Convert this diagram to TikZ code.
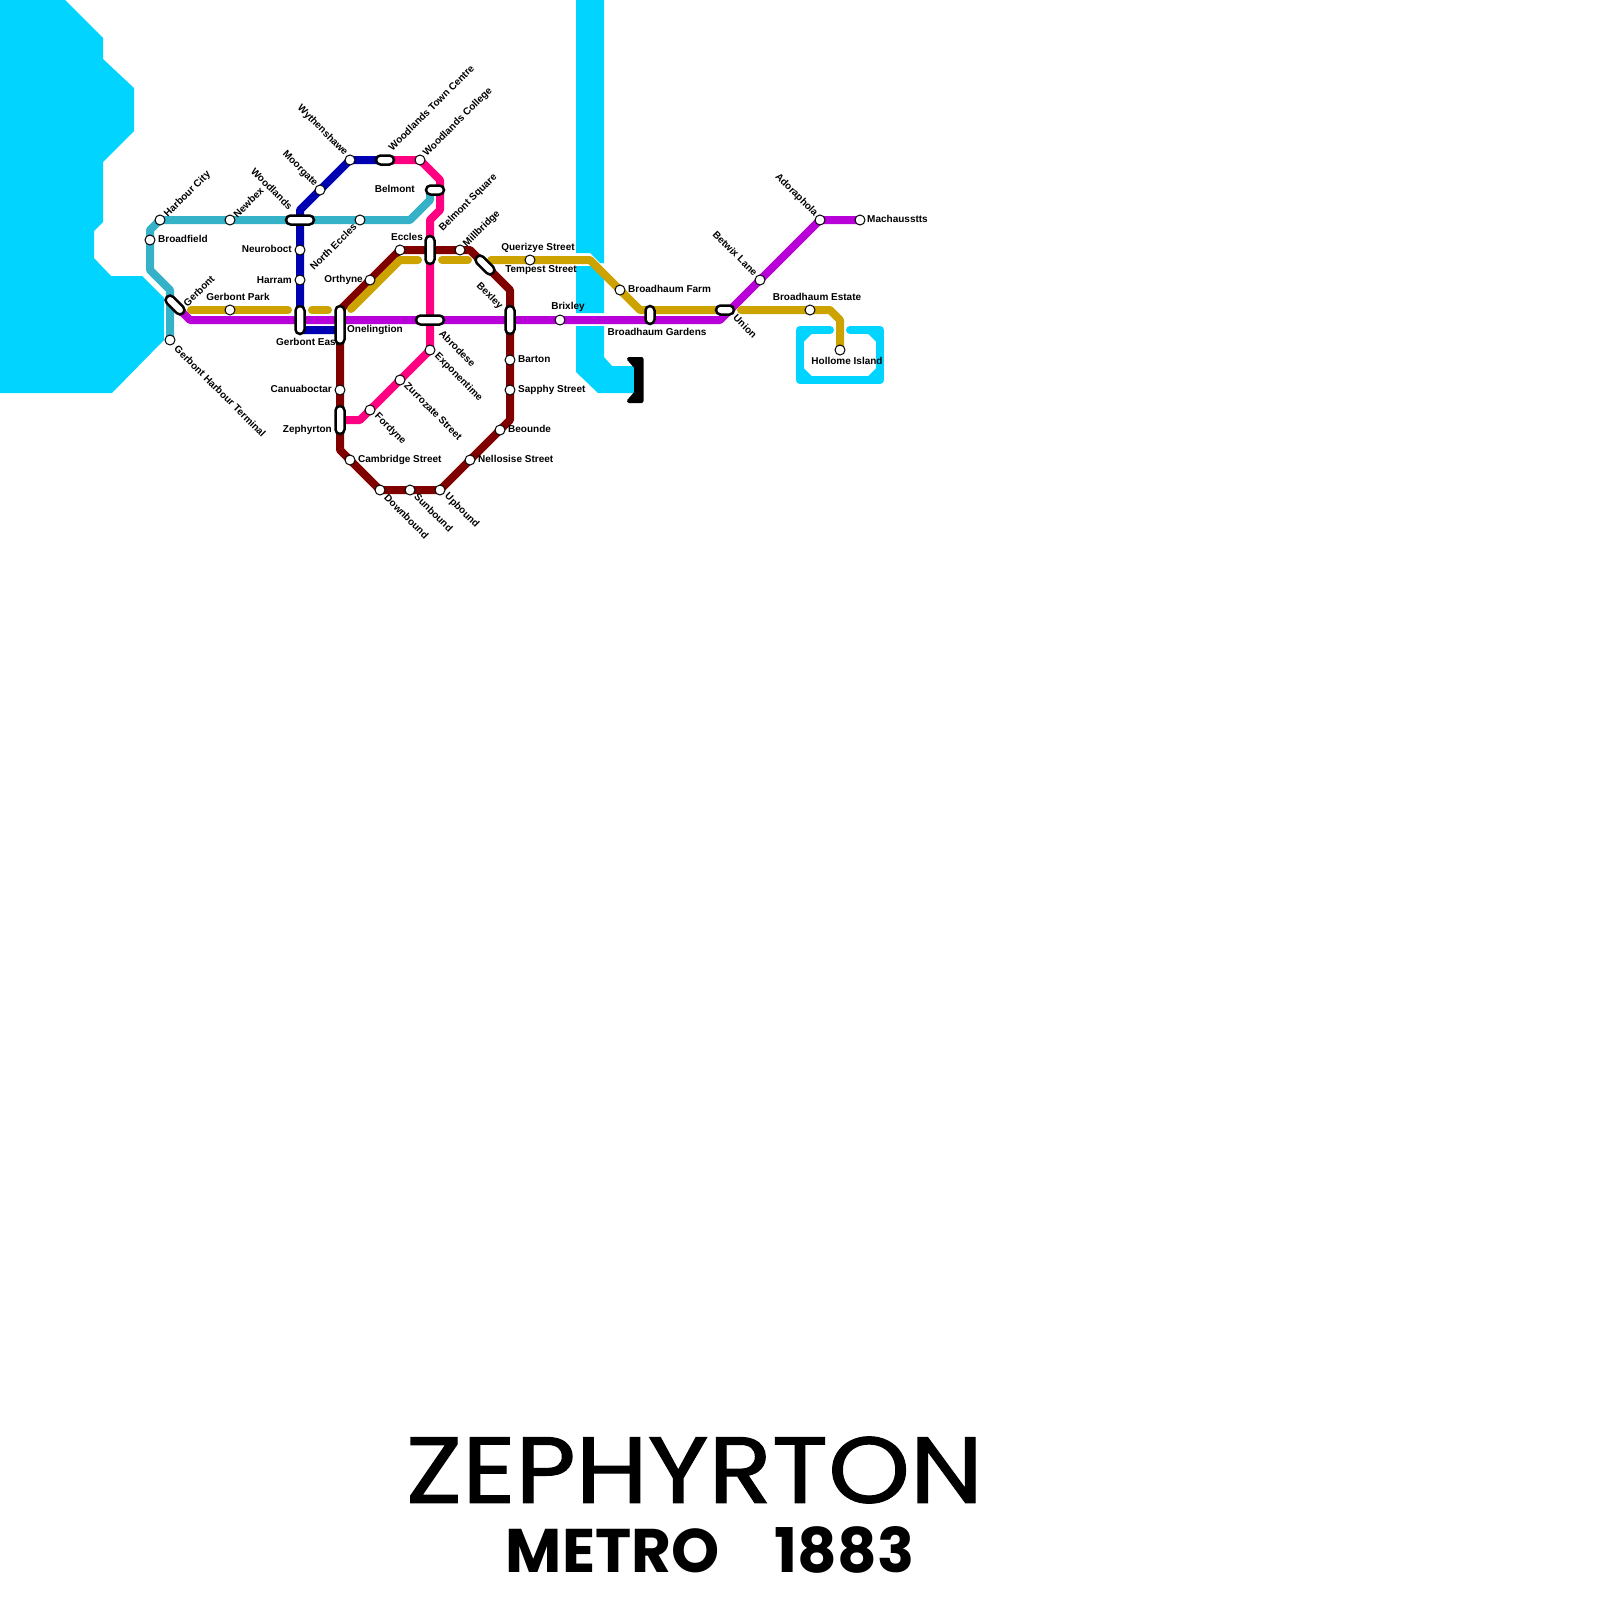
\documentclass[tikz,border=0pt]{standalone}
\usepackage{fontspec}
\usepackage{xcolor}
\usetikzlibrary{backgrounds}
\setmainfont{Liberation Sans}
\newfontfamily\titlefont{Poppins}
\newfontfamily\titleheavy[FakeBold=1.2]{Poppins}
\definecolor{watercol}{RGB}{0,212,255}
\definecolor{tealcol}{RGB}{53,178,200}
\definecolor{bluecol}{RGB}{0,0,179}
\definecolor{redcol}{RGB}{128,0,0}
\definecolor{pinkcol}{RGB}{255,0,128}
\definecolor{goldcol}{RGB}{204,163,0}
\definecolor{purplecol}{RGB}{184,0,216}

\begin{document}
\begin{tikzpicture}[x=1pt,y=-1pt,font=\fontsize{10}{12}\selectfont\bfseries,
  metroline/.style={line width=8,line join=round},
  goldline/.style={line width=8,line join=round,line cap=round,draw=goldcol},
  isle/.style={line width=8,line join=round,line cap=round,draw=watercol},
  stn/.style={circle,draw=black,fill=white,line width=1,minimum size=10,inner sep=0},
  ichg/.style={draw=black,fill=white,line width=2.5,rounded corners=4.5,minimum height=9,inner sep=0},
  lbl/.style={inner sep=0,text=black},
  up/.style={lbl,rotate=45,anchor=west},
  down/.style={lbl,rotate=-45,anchor=west},
  downend/.style={lbl,rotate=-45,anchor=east}]
\useasboundingbox (0,0) rectangle (1600,1600);

\node[stn] (harbourcity) at (160,220) {};
\node[stn] (broadfield) at (150,240) {};
\node[stn] (newbex) at (230,220) {};
\node[stn] (northeccles) at (360,220) {};
\node[stn] (harbourterm) at (170,340) {};
\node[stn] (gerbontpark) at (230,310) {};
\node[stn] (wythenshawe) at (350,160) {};
\node[stn] (moorgate) at (320,190) {};
\node[stn] (neuroboct) at (300,250) {};
\node[stn] (harram) at (300,280) {};
\node[stn] (woodcollege) at (420,160) {};
\node[stn] (exponentime) at (430,350) {};
\node[stn] (zurrozate) at (400,380) {};
\node[stn] (fordyne) at (370,410) {};
\node[stn] (orthyne) at (370,280) {};
\node[stn] (eccles) at (400,250) {};
\node[stn] (millbridge) at (460,250) {};
\node[stn] (barton) at (510,360) {};
\node[stn] (sapphy) at (510,390) {};
\node[stn] (beounde) at (500,430) {};
\node[stn] (nellosise) at (470,460) {};
\node[stn] (upbound) at (440,490) {};
\node[stn] (sunbound) at (410,490) {};
\node[stn] (downbound) at (380,490) {};
\node[stn] (cambridge) at (350,460) {};
\node[stn] (canuaboctar) at (340,390) {};
\node[stn] (brixley) at (560,320) {};
\node[stn] (querizye) at (530,260) {};
\node[stn] (broadfarm) at (620,290) {};
\node[stn] (broadestate) at (810,310) {};
\node[stn] (hollome) at (840,350) {};
\node[stn] (betwix) at (760,280) {};
\node[stn] (adoraphola) at (820,220) {};
\node[stn] (machausstts) at (860,220) {};

\node[up] (harbourcitylbl) at (166,216) {Harbour City};
\node[lbl,anchor=west] (broadfieldlbl) at (158,239) {Broadfield};
\node[up] (newbexlbl) at (235,216) {Newbex};
\node[downend] (woodlandslbl) at (291,208) {Woodlands};
\node[lbl,anchor=east] (neurobotlbl) at (292,249) {Neuroboct};
\node[lbl,anchor=east] (harramlbl) at (292,280) {Harram};
\node[downend] (moorgatelbl) at (316,185) {Moorgate};
\node[downend] (wythenshawelbl) at (346,154) {Wythenshawe};
\node[up] (woodtownlbl) at (390,149) {Woodlands Town Centre};
\node[up] (woodcollegelbl) at (425,155) {Woodlands College};
\node[lbl,anchor=east] (belmontlbl) at (415,189) {Belmont};
\node[up] (belmontsqlbl) at (441,230) {Belmont Square};
\node[up] (millbridgelbl) at (465,246) {Millbridge};
\node[lbl] (eccleslbl) at (407,237) {Eccles};
\node[lbl,rotate=45,anchor=east] (northeccleslbl) at (355,225) {North Eccles};
\node[lbl,anchor=east] (orthynelbl) at (363,280) {Orthyne};
\node[up] (gerbontlbl) at (185,305) {Gerbont};
\node[lbl] (gerbontparklbl) at (238,297) {Gerbont Park};
\node[lbl,anchor=west] (gerbonteastlbl) at (276,342) {Gerbont East};
\node[lbl,anchor=west] (onelingtionlbl) at (347,330) {Onelingtion};
\node[down] (harbourtermlbl) at (176,347) {Gerbont Harbour Terminal};
\node[lbl,anchor=east] (canuaboctarlbl) at (332,389) {Canuaboctar};
\node[lbl,anchor=east] (zephyrtonlbl) at (332,430) {Zephyrton};
\node[down] (fordynelbl) at (376,415) {Fordyne};
\node[down] (zurrozatelbl) at (406,384) {Zurrozate Street};
\node[down] (exponentimelbl) at (436,355) {Exponentime};
\node[down] (abrodeselbl) at (441,332) {Abrodese};
\node[lbl,anchor=west] (cambridgelbl) at (358,460) {Cambridge Street};
\node[down] (downboundlbl) at (386,496) {Downbound};
\node[down] (sunboundlbl) at (416,495) {Sunbound};
\node[down] (upboundlbl) at (446,495) {Upbound};
\node[lbl,anchor=west] (nellosiselbl) at (478,459) {Nellosise Street};
\node[lbl,anchor=west] (beoundelbl) at (508,429) {Beounde};
\node[lbl,anchor=west] (bartonlbl) at (518,359) {Barton};
\node[lbl,anchor=west] (sapphylbl) at (518,390) {Sapphy Street};
\node[downend] (bexleylbl) at (501,308) {Bexley};
\node[lbl] (brixleylbl) at (568,307) {Brixley};
\node[lbl] (querizyelbl) at (538,248) {Querizye Street};
\node[lbl] (tempestlbl) at (541,270) {Tempest Street};
\node[lbl,anchor=west] (broadfarmlbl) at (628,289) {Broadhaum Farm};
\node[lbl] (broadgardenslbl) at (657,332) {Broadhaum Gardens};
\node[down] (unionlbl) at (735,316) {Union};
\node[downend] (betwixlbl) at (756,274) {Betwix Lane};
\node[downend] (adorapholalbl) at (816,215) {Adoraphola};
\node[lbl,anchor=west] (machaussttslbl) at (867,219) {Machausstts};
\node[lbl] (broadestatelbl) at (817,297) {Broadhaum Estate};
\node[lbl] (hollomelbl) at (847,361) {Hollome Island};

\node[ichg,minimum width=28] (woodlands) at (300,220) {};
\node[ichg,minimum width=18] (woodtown) at (385,160) {};
\node[ichg,minimum width=18] (belmont) at (435,190) {};
\node[ichg,minimum width=28,rotate=90] (belmontsq) at (430,250) {};
\node[ichg,minimum width=23,rotate=-45] (gerbont) at (175,305) {};
\node[ichg,minimum width=23,rotate=-45] (tempest) at (485,265) {};
\node[ichg,minimum width=28,rotate=90] (gerbonteast) at (300,320) {};
\node[ichg,minimum width=38,rotate=90] (onelingtion) at (340,325) {};
\node[ichg,minimum width=28,rotate=90] (zephyrton) at (340,420) {};
\node[ichg,minimum width=28] (abrodese) at (430,320) {};
\node[ichg,minimum width=28,rotate=90] (bexley) at (510,320) {};
\node[ichg,minimum width=18,rotate=90] (broadgardens) at (650,315) {};
\node[ichg,minimum width=18] (union) at (725,310) {};

\node (title) at (694.5,1470) {\resizebox{577pt}{66pt}{\titleheavy\mdseries ZEPHYRTON}};
\node (subtitle) at (710,1550) {\resizebox{408pt}{46pt}{\titlefont\bfseries METRO\hspace{0.9em}1883}};

\begin{pgfonlayer}{background}
\fill[watercol] (0,0) -- (65,0) -- (103,38) -- (103,59) -- (134,88) -- (134,131) -- (103,162) -- (103,222) -- (94,231) -- (94,258) -- (111,276) -- (142,276) -- (164,298) -- (164,340) -- (112,393) -- (0,393) -- cycle;
\fill[watercol] (576,0) -- (604,0) -- (604,263) -- (600,263) -- (590,253) -- (576,253) -- cycle;
\fill[watercol] (576,266) -- (593,266) -- (604,277) -- (604,313) -- (576,313) -- cycle;
\fill[watercol] (576,326) -- (604,326) -- (604,357) -- (612,366) -- (636,366) -- (636,393) -- (598,393) -- (576,372) -- cycle;
\filldraw[black,line width=4,line join=round] (629,359) -- (641.5,359) -- (641.5,401) -- (629,401) -- (636,393) -- (636,367) -- cycle;
\draw[isle] (830,330) -- (800,330) -- (800,380) -- (880,380) -- (880,330) -- (850,330);
\draw[isle] (800,340) -- (810,330) (800,370) -- (810,380) (880,340) -- (870,330) (880,370) -- (870,380);

\draw[metroline,tealcol] (harbourterm.center) -- (170,290) -- (150,270) -- (broadfield.center) -- (150,230) -- (harbourcity.center) -- (newbex.center) -- (woodlands.center) -- (northeccles.center) -- (410,220) -- (430,200) -- (430,190);
\draw[metroline,bluecol] (woodtown.center) -- (wythenshawe.center) -- (moorgate.center) -- (300,210) -- (neuroboct.center) -- (harram.center) -- (gerbonteast.center) -- (300,330) -- (onelingtion.center |- 0,330);
\draw[metroline,pinkcol] (woodtown.center) -- (woodcollege.center) -- (440,180) -- (440,210) -- (430,220) -- (abrodese.center) -- (exponentime.center) -- (zurrozate.center) -- (fordyne.center) -- (360,420) -- (zephyrton.center);
\draw[metroline,redcol] (onelingtion.center) -- (340,310) -- (orthyne.center) -- (eccles.center) -- (millbridge.center) -- (470,250) -- (tempest.center) -- (510,290) -- (bexley.center) -- (barton.center) -- (sapphy.center) -- (510,420) -- (beounde.center) -- (nellosise.center) -- (upbound.center) -- (sunbound.center) -- (downbound.center) -- (cambridge.center) -- (340,450) -- (zephyrton.center) -- (canuaboctar.center) -- (onelingtion.center);
\draw[metroline,purplecol] (gerbont.center) -- (190,320) -- (abrodese.center) -- (brixley.center) -- (720,320) -- (betwix.center) -- (adoraphola.center) -- (machausstts.center);
\draw[goldline] (191,310) -- (288,310);
\draw[goldline] (312,310) -- (328,310);
\draw[goldline] (351,309) -- (400,260) -- (418,260);
\draw[goldline] (442,260) -- (468,260);
\draw[goldline] (491,260) -- (querizye.center) -- (590,260) -- (broadfarm.center) -- (640,310) -- (union.center);
\draw[goldline] (741,310) -- (broadestate.center) -- (830,310) -- (840,320) -- (hollome.center);
\end{pgfonlayer}
\end{tikzpicture}
\end{document}
